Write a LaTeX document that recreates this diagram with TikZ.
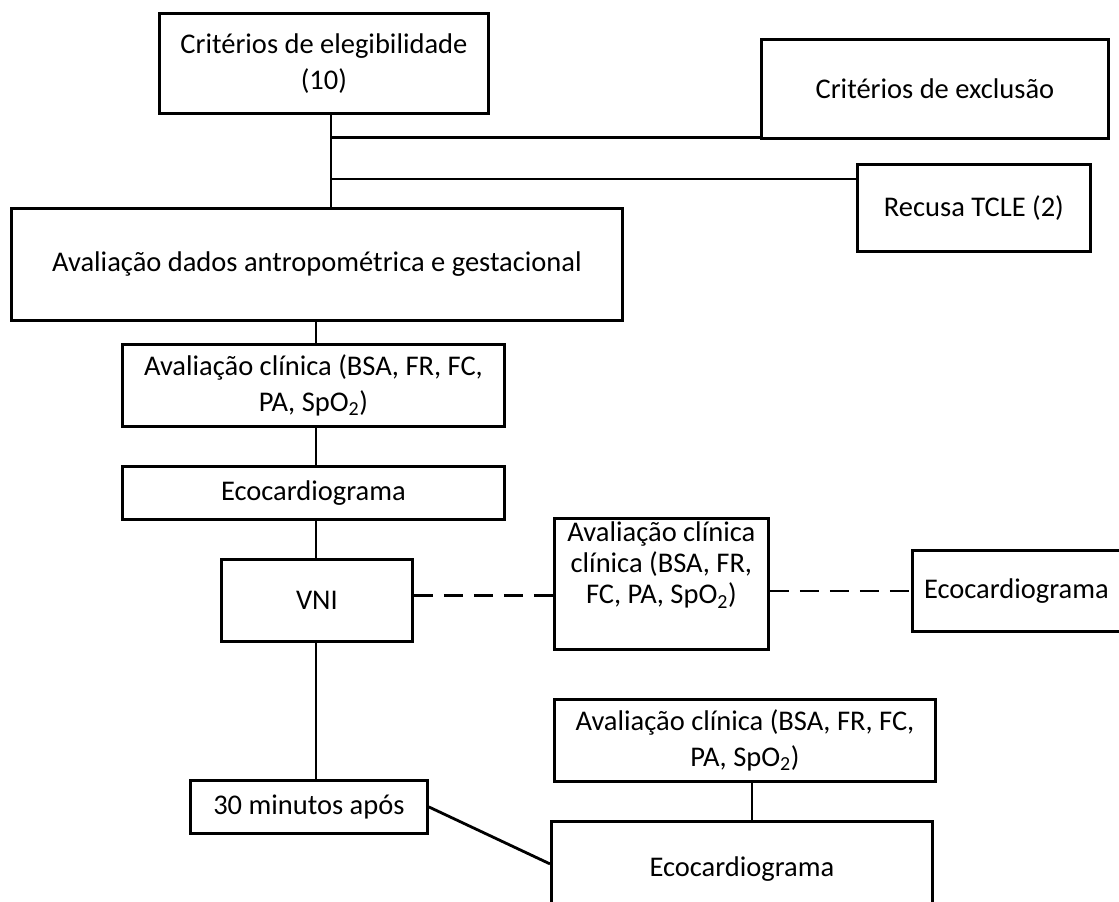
\documentclass[tikz,border=0pt]{standalone}
\usepackage{fontspec}
\setmainfont{Carlito}
\usetikzlibrary{calc}
\begin{document}
\begin{tikzpicture}[x=1pt,y=-1pt,
  box/.style={draw, line width=2.8pt, inner sep=3pt, align=center, anchor=north west, text=black,
              font=\fontsize{28.5}{36}\selectfont},
  conn/.style={line width=2.8pt},
  dashconn/.style={line width=2.8pt, dash pattern=on 19pt off 11pt}]
\useasboundingbox (0,0) rectangle (1119,902);
% nodes
\node[box, minimum width=329pt, minimum height=100pt] (elig) at (158,12) {Critérios de elegibilidade\\(10)};
\node[box, minimum width=347pt, minimum height=99pt] (excl) at (760,38) {Critérios de exclusão};
\node[box, minimum width=233pt, minimum height=87pt] (rec) at (856,163) {Recusa TCLE (2)};
\node[box, minimum width=611pt, minimum height=112pt] (big) at (10,207) {Avaliação dados antropométrica e gestacional};
\node[box, minimum width=382pt, minimum height=82pt] (clin1) at (121,343) {Avaliação clínica (BSA, FR, FC,\\PA, SpO\textsubscript{2})};
\node[box, minimum width=382pt, minimum height=53pt] (eco1) at (121,465) {Ecocardiograma};
\node[box, minimum width=191pt, minimum height=82pt] (vni) at (220,558) {VNI};
\node[box, minimum width=214pt, minimum height=131pt, font=\fontsize{28.5}{31}\selectfont] (mid) at (553,517)
  {\parbox[t][124pt][t]{208pt}{\centering Avaliação clínica\\clínica (BSA, FR,\\FC, PA, SpO\textsubscript{2})}};
\node[box, minimum width=208pt, minimum height=81pt] (ecoR) at (911,549) {Ecocardiograma};
\node[box, minimum width=237pt, minimum height=53pt] (min30) at (189,779) {30 minutos após};
\node[box, minimum width=381pt, minimum height=82pt] (clin2) at (553,698) {Avaliação clínica (BSA, FR, FC,\\PA, SpO\textsubscript{2})};
\node[box, minimum width=381pt, minimum height=95pt] (ecoB) at (550,820) {Ecocardiograma};
% connectors
\coordinate (j) at (331,0);
\coordinate (k) at (316,0);
\coordinate (m) at (752,0);
\draw[conn] (elig.south -| j) -- (big.north -| j);
\coordinate (r1) at ($(excl.south west)+(0,-2)$);
\draw[conn] (r1 -| j) -- (r1);
\coordinate (r2) at ($(rec.north west)+(0,16)$);
\draw[conn] (r2 -| j) -- (r2);
\draw[conn] (big.south -| k) -- (clin1.north -| k);
\draw[conn] (clin1.south -| k) -- (eco1.north -| k);
\draw[conn] (eco1.south -| k) -- (vni.north -| k);
\coordinate (d1) at ($(vni.east)+(0,-5)$);
\draw[dashconn] (d1) -- (d1 -| mid.west);
\draw[dashconn] (ecoR.west -| mid.east) -- (ecoR.west);
\draw[conn] (vni.south -| k) -- (min30.north -| k);
\draw[conn] (clin2.south -| m) -- (ecoB.north -| m);
\draw[conn] (min30.east) -- ($(ecoB.west)+(0,-5)$);
\end{tikzpicture}
\end{document}
